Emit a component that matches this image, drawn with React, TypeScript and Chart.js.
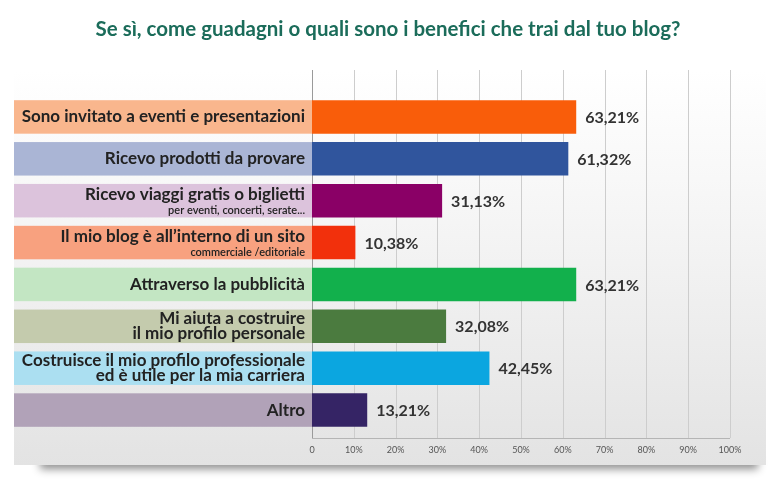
import React, { useEffect, useRef } from 'react';
import { Chart, registerables } from 'chart.js';

Chart.register(...registerables);

const titleText = 'Se sì, come guadagni o quali sono i benefici che trai dal tuo blog?';

const labelLines: string[][] = [
  ['Sono invitato a eventi e presentazioni'],
  ['Ricevo prodotti da provare'],
  ['Ricevo viaggi gratis o biglietti'],
  ['Il mio blog è all’interno di un sito'],
  ['Attraverso la pubblicità'],
  ['Mi aiuta a costruire', 'il mio profilo personale'],
  ['Costruisce il mio profilo professionale', 'ed è utile per la mia carriera'],
  ['Altro'],
];

const subLabels = ['', '', 'per eventi, concerti, serate...', 'commerciale /editoriale', '', '', '', ''];

const values = [63.21, 61.32, 31.13, 10.38, 63.21, 32.08, 42.45, 13.21];

const barColors = ['#f95d0a', '#30559d', '#8a0066', '#f2300c', '#12b04c', '#4b7b3f', '#0ba6e0', '#352465'];
const labelBgColors = ['#f9b68d', '#aab5d5', '#dcc3dc', '#f8a17f', '#c3e6c3', '#c4cbad', '#abdff1', '#b1a2b8'];

const xTickValues = [0, 10, 20, 30, 40, 50, 60, 70, 80, 90, 100];

const FONT = 'Lato, "Open Sans", sans-serif';

const fmt = (v: number) => v.toFixed(2).replace('.', ',') + '%';

const decorPlugin = {
  id: 'decor',
  beforeDraw(chart: any) {
    const { ctx } = chart;
    ctx.save();
    ctx.shadowColor = 'rgba(0,0,0,0.45)';
    ctx.shadowBlur = 8;
    ctx.shadowOffsetY = 5;
    ctx.fillStyle = '#cfcfcf';
    ctx.fillRect(40, 452, 718, 12);
    ctx.restore();
    ctx.save();
    const g = ctx.createLinearGradient(0, 70, 0, 465);
    g.addColorStop(0, '#ffffff');
    g.addColorStop(0.35, '#f6f6f6');
    g.addColorStop(1, '#e3e3e3');
    ctx.fillStyle = g;
    ctx.fillRect(14, 68, 752, 397);
    ctx.restore();

    // title (stretched horizontally like the original artwork)
    ctx.save();
    ctx.font = `bold 20px ${FONT}`;
    ctx.fillStyle = '#1b6c5a';
    ctx.textAlign = 'center';
    ctx.textBaseline = 'alphabetic';
    const w = ctx.measureText(titleText).width;
    const sx = 585 / w;
    ctx.translate(388, 36);
    ctx.scale(sx, 1);
    ctx.fillText(titleText, 0, 0);
    ctx.restore();
  },
  beforeDatasetsDraw(chart: any) {
    const { ctx } = chart;
    const xs = chart.scales.x;
    const ys = chart.scales.y;
    const top = 70;
    const bottom = ys.bottom + 7;
    ctx.save();
    xTickValues.forEach((v) => {
      const x = Math.round(xs.getPixelForValue(v)) + 0.5;
      ctx.strokeStyle = v === 0 ? '#9a9a9a' : '#cdcdcd';
      ctx.lineWidth = 1;
      ctx.beginPath();
      ctx.moveTo(x, top);
      ctx.lineTo(x, bottom);
      ctx.stroke();
    });
    ctx.strokeStyle = '#b5b5b5';
    ctx.beginPath();
    ctx.moveTo(xs.getPixelForValue(0), bottom + 0.5);
    ctx.lineTo(xs.getPixelForValue(100), bottom + 0.5);
    ctx.stroke();

    const meta = chart.getDatasetMeta(0);
    const x0 = xs.getPixelForValue(0);
    meta.data.forEach((bar: any, i: number) => {
      const h = bar.height;
      ctx.fillStyle = labelBgColors[i];
      ctx.fillRect(14, bar.y - h / 2, x0 - 14, h);
      const tx = 305;
      ctx.fillStyle = '#222222';
      ctx.textAlign = 'right';
      ctx.textBaseline = 'middle';
      const lines = labelLines[i];
      if (lines.length === 2) {
        ctx.font = `bold 17px ${FONT}`;
        ctx.fillText(lines[0], tx, bar.y - 7.5);
        ctx.fillText(lines[1], tx, bar.y + 7.5);
      } else if (subLabels[i]) {
        ctx.font = `bold 17px ${FONT}`;
        ctx.fillText(lines[0], tx, bar.y - 6);
        ctx.font = `600 11px ${FONT}`;
        ctx.fillText(subLabels[i], tx, bar.y + 10);
      } else {
        ctx.font = `bold 17px ${FONT}`;
        ctx.fillText(lines[0], tx, bar.y);
      }
    });
    ctx.restore();
  },
  afterDatasetsDraw(chart: any) {
    const { ctx } = chart;
    const meta = chart.getDatasetMeta(0);
    ctx.save();
    ctx.font = `bold 16px ${FONT}`;
    ctx.fillStyle = '#333333';
    ctx.textAlign = 'left';
    ctx.textBaseline = 'middle';
    meta.data.forEach((bar: any, i: number) => {
      ctx.fillText(fmt(values[i]), bar.x + 9, bar.y + 1);
    });
    ctx.restore();
  },
};

export default function App() {
  const canvasRef = useRef<HTMLCanvasElement | null>(null);

  useEffect(() => {
    if (!canvasRef.current) return;
    const chart = new Chart(canvasRef.current, {
      type: 'bar',
      data: {
        labels: labelLines.map((l) => l.join(' ')),
        datasets: [
          {
            data: values,
            backgroundColor: barColors,
            borderWidth: 0,
            barPercentage: 0.8,
            categoryPercentage: 1,
          },
        ],
      },
      options: {
        indexAxis: 'y',
        responsive: false,
        animation: false,
        layout: { padding: { left: 312, right: 50, top: 96, bottom: 0 } },
        plugins: {
          legend: { display: false },
          tooltip: { enabled: false },
          title: { display: false },
        },
        scales: {
          x: {
            min: 0,
            max: 100,
            afterFit: (scale: any) => {
              scale.height = 52;
            },
            grid: { display: false, drawTicks: false },
            border: { display: false },
            ticks: {
              stepSize: 10,
              padding: 14,
              color: '#555555',
              font: { family: FONT, size: 9 },
              callback: (v: any) => (Number(v) === 0 ? '0' : v + '%'),
            },
          },
          y: {
            display: false,
            grid: { display: false },
          },
        },
      },
      plugins: [decorPlugin],
    });
    return () => chart.destroy();
  }, []);

  return (
    <div style={{ position: 'fixed', left: 0, top: 0, width: 780, height: 483, background: '#ffffff' }}>
      <canvas ref={canvasRef} width={780} height={483} style={{ display: 'block' }} />
    </div>
  );
}
